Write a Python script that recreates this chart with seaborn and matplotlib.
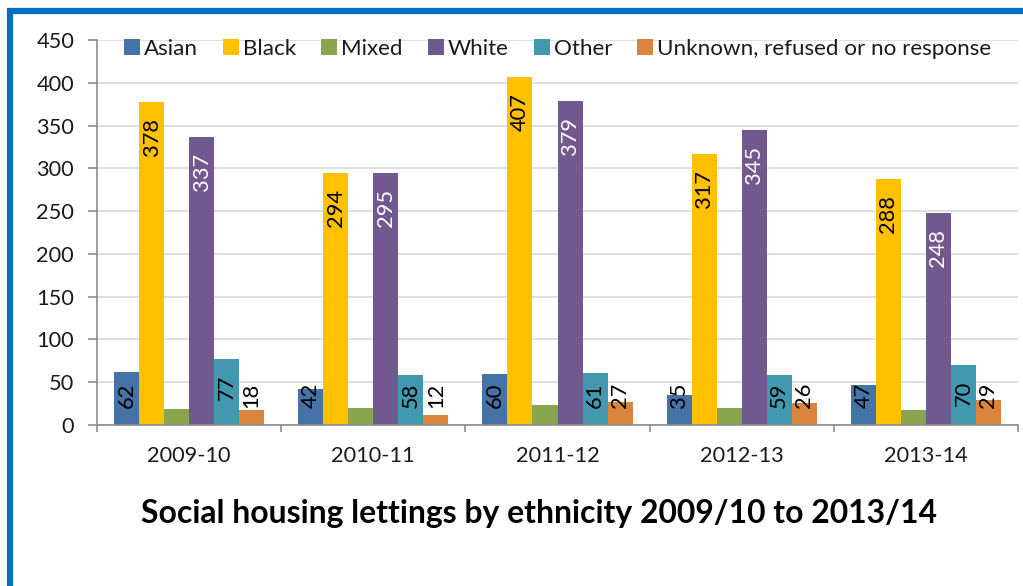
import matplotlib
matplotlib.use("Agg")
import matplotlib.pyplot as plt
import matplotlib.patches as mpatches
import seaborn as sns
import pandas as pd

years = ["2009-10", "2010-11", "2011-12", "2012-13", "2013-14"]
groups = ["Asian", "Black", "Mixed", "White", "Other", "Unknown, refused or no response"]
asian = [62, 42, 60, 35, 47]
black = [378, 294, 407, 317, 288]
mixed = [19, 20, 23, 20, 17]
white = [337, 295, 379, 345, 248]
other = [77, 58, 61, 59, 70]
unknown = [18, 12, 27, 26, 29]
colors = ["#4572A7", "#FFC000", "#89A54E", "#71588F", "#4198AF", "#DB843D"]
label_colors = ["black", "black", None, "white", "black", "black"]
title = "Social housing lettings by ethnicity 2009/10 to 2013/14"

series = [asian, black, mixed, white, other, unknown]
rows = []
for g, vals in zip(groups, series):
    for y, v in zip(years, vals):
        rows.append({"year": y, "group": g, "value": v})
df = pd.DataFrame(rows)

sns.set_theme(style="white")
plt.rcParams["font.family"] = ["Lato", "DejaVu Sans"]

fig = plt.figure(figsize=(10.23, 5.86), dpi=100)
renderer = fig.canvas.get_renderer()


def fit_size(text, target_px, weight="normal"):
    t = fig.text(0, 0, text, fontsize=20, fontweight=weight)
    w = t.get_window_extent(renderer).width
    t.remove()
    return 20 * target_px / w


tick_fs = fit_size("2009-10", 84)
ytick_fs = fit_size("450", 38)
lab_fs = fit_size("378", 38)
leg_fs = fit_size("Asian", 54)
title_fs = fit_size(title, 797, "bold")

ax = fig.add_axes([97 / 1023, 1 - 425 / 586, (1018 - 97) / 1023, (425 - 40) / 586])

sns.barplot(data=df, x="year", y="value", hue="group", order=years, hue_order=groups,
            palette=colors, saturation=1, width=0.815, linewidth=0, ax=ax, errorbar=None)

ax.set_ylim(0, 450)
ax.set_xlim(-0.5, 4.5)
ax.set_yticks(range(0, 451, 50))
ax.yaxis.grid(True, color="#D9D9D9", linewidth=1.2)
ax.set_axisbelow(True)
ax.set_xlabel("")
ax.set_ylabel("")
for s in ["top", "right"]:
    ax.spines[s].set_visible(False)
for s in ["left", "bottom"]:
    ax.spines[s].set_color("#8C8C8C")
    ax.spines[s].set_linewidth(1.2)
ax.tick_params(axis="y", which="major", left=True, length=6.5, width=1.2, color="#8C8C8C",
               labelsize=ytick_fs, labelcolor="#1a1a1a", pad=10)
ax.tick_params(axis="x", which="major", bottom=False, length=0, labelsize=tick_fs,
               labelcolor="#1a1a1a", pad=15)
ax.set_xticks([i - 0.5 for i in range(6)], minor=True)
ax.tick_params(axis="x", which="minor", bottom=True, length=5, width=1.2, color="#8C8C8C")

# data labels
px_per_unit = 385 / 450
for ci, cont in enumerate(ax.containers):
    col = label_colors[ci]
    if col is None:
        continue
    for bar in cont:
        v = bar.get_height()
        xc = bar.get_x() + bar.get_width() / 2
        txt = f"{int(round(v))}"
        length = len(txt) * 12.7 / px_per_unit
        top = v - 16 / px_per_unit
        floor = 16.5 / px_per_unit
        if top - length >= floor:
            ax.text(xc, top, txt, rotation=90, ha="center", va="top", fontsize=lab_fs, color=col)
        else:
            ax.text(xc, floor, txt, rotation=90, ha="center", va="bottom", fontsize=lab_fs, color=col)

handles, labels = ax.get_legend_handles_labels()
fpx = leg_fs * 100 / 72
ax.legend(handles, labels, ncol=6, loc="center left", bbox_to_anchor=(27 / 921, (425 - 49) / 385),
          frameon=False, fontsize=leg_fs, handlelength=16 / fpx, handleheight=16 / fpx,
          handletextpad=4 / fpx, columnspacing=25 / fpx, borderaxespad=0, borderpad=0,
          labelcolor="#1a1a1a")

fig.text(0.527, 1 - 514 / 586, title, ha="center", va="center", fontsize=title_fs,
         fontweight="bold", color="black")

# blue frame
frame = mpatches.Rectangle((9.5 / 1023, -0.2), 1.5, 1 - 10.5 / 586 + 0.2, transform=fig.transFigure,
                           fill=False, edgecolor="#0070C0", linewidth=4.5, clip_on=False)
fig.patches.append(frame)

fig.savefig("out.png", dpi=100)
